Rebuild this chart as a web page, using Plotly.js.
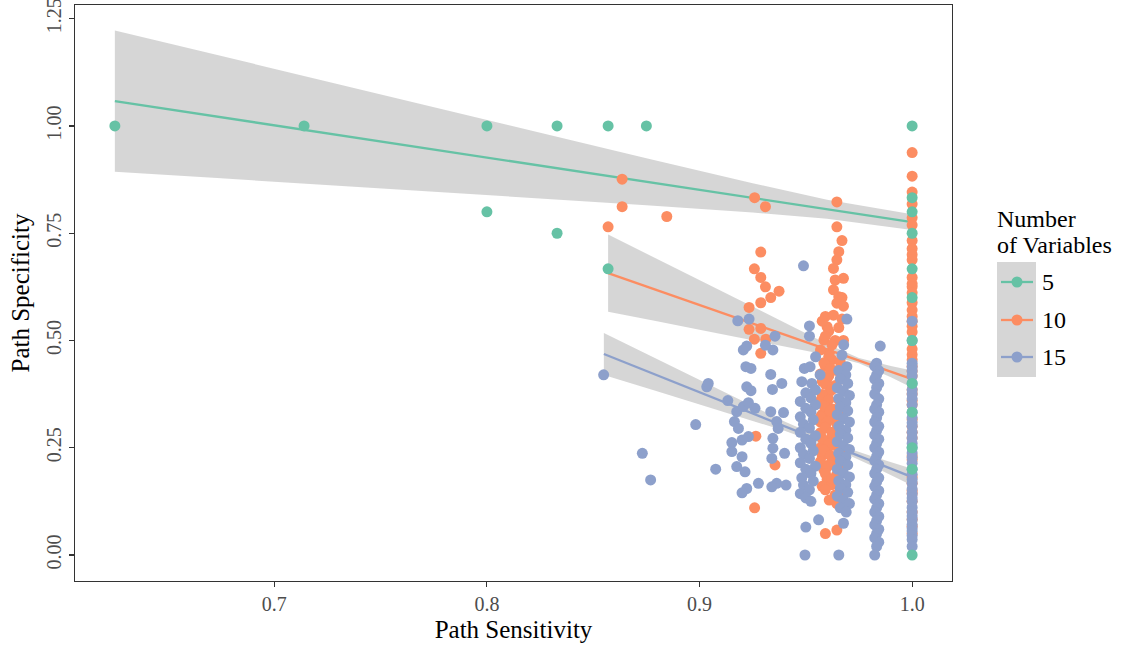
<!DOCTYPE html>
<html>
<head>
<meta charset="utf-8">
<script src="https://cdn.plot.ly/plotly-3.0.1.min.js"></script>
<style>
  html, body { margin: 0; padding: 0; background: #ffffff; }
  #chart { width: 1122px; height: 649px; }
</style>
</head>
<body>
<div id="chart"></div>
<script>
// ---------- point data: path sensitivity (x) vs path specificity (y) ----------
// 5 variables
const v5X = [0.625, 0.714, 0.8, 0.8, 0.833, 0.833, 0.857, 0.857, 0.875,
  1, 1, 1, 1, 1, 1, 1, 1, 1, 1, 1, 1];
const v5Y = [1, 1, 1, 0.8, 1, 0.75, 1, 0.667, 1,
  1, 0.833, 0.8, 0.75, 0.667, 0.6, 0.5, 0.4, 0.333, 0.25, 0.2, 0];

// 10 variables: scattered points
const v10ScatterX = [0.857, 0.8636, 0.8636, 0.8846, 0.9259, 0.931, 0.9288, 0.9258, 0.9288, 0.931, 0.9374,
  0.9335, 0.9288, 0.9233, 0.9233, 0.9288, 0.9258, 0.9312, 0.9288, 0.9265, 0.9355, 0.9259];
const v10ScatterY = [0.765, 0.876, 0.812, 0.789, 0.833, 0.812, 0.706, 0.667, 0.647, 0.625, 0.615,
  0.6, 0.588, 0.577, 0.526, 0.528, 0.503, 0.503, 0.47, 0.277, 0.21, 0.11];
// 10 variables: column near 0.965
const v10ColX = [0.9646, 0.9646, 0.967, 0.9655, 0.9646, 0.963, 0.9677, 0.9638, 0.963, 0.9655, 0.967,
  0.9646, 0.9677, 0.9592, 0.963, 0.967, 0.96, 0.9655, 0.9585, 0.9638, 0.9677, 0.961,
  0.9623, 0.9662, 0.9592, 0.9646, 0.9608, 0.9662, 0.9577, 0.9638, 0.9615, 0.9585, 0.9569, 0.9655,
  0.96, 0.963, 0.9669, 0.9577, 0.9569, 0.9615, 0.9646, 0.9592, 0.9662, 0.9569, 0.9623, 0.9585,
  0.9638, 0.96, 0.9569, 0.9669, 0.9577, 0.963, 0.9608, 0.9662, 0.9585, 0.9646, 0.96, 0.9577,
  0.9623, 0.9662, 0.9592, 0.9638, 0.961, 0.9646, 0.9592, 0.9646];
const v10ColY = [0.823, 0.765, 0.733, 0.707, 0.688, 0.668, 0.645, 0.641, 0.618, 0.602, 0.6,
  0.587, 0.58, 0.556, 0.559, 0.55, 0.532, 0.53, 0.501, 0.5, 0.5, 0.47,
  0.455, 0.45, 0.44, 0.43, 0.418, 0.41, 0.405, 0.395, 0.382, 0.37, 0.36, 0.362,
  0.35, 0.34, 0.33, 0.328, 0.31, 0.318, 0.305, 0.296, 0.29, 0.285, 0.276, 0.265,
  0.255, 0.244, 0.25, 0.235, 0.232, 0.222, 0.21, 0.2, 0.198, 0.188, 0.176, 0.16,
  0.164, 0.15, 0.152, 0.14, 0.128, 0.12, 0.05, 0.058];
const v10ColFillX = [0.9577, 0.9608, 0.9592, 0.9623, 0.9569, 0.9608, 0.9585, 0.9615, 0.9569, 0.96,
  0.9592, 0.9623, 0.9577, 0.9608, 0.9585, 0.9615, 0.9569, 0.96, 0.9592, 0.9623, 0.9577, 0.9608,
  0.9585, 0.9615, 0.9569, 0.96, 0.9592, 0.9623];
const v10ColFillY = [0.545, 0.522, 0.51, 0.49, 0.478, 0.463, 0.448, 0.435, 0.422, 0.41,
  0.398, 0.386, 0.374, 0.362, 0.348, 0.336, 0.322, 0.31, 0.298, 0.286, 0.272, 0.258,
  0.245, 0.232, 0.218, 0.205, 0.19, 0.178];
// 10 variables: sensitivity 1.0
const v10FullY = [0.938, 0.883, 0.846, 0.818, 0.786, 0.769, 0.733, 0.714, 0.7, 0.688, 0.647,
  0.632, 0.625, 0.611, 0.588, 0.571, 0.556, 0.545, 0.533, 0.52, 0.48, 0.467, 0.455, 0.44,
  0.429, 0.417, 0.385, 0.375, 0.36, 0.35, 0.316, 0.3, 0.286, 0.273, 0.231, 0.222, 0.182,
  0.167, 0.15, 0.143, 0.125, 0.1, 0.083, 0.067, 0.05];

// 15 variables: scattered points
const v15ScatterX = [0.8549, 0.8731, 0.877, 0.8982, 0.9034, 0.9041, 0.9076, 0.9133, 0.918, 0.9233,
  0.9355, 0.9206, 0.9222, 0.9345, 0.931, 0.9218, 0.9242, 0.9335, 0.9387, 0.9343, 0.9222, 0.9242,
  0.9175, 0.9206, 0.923, 0.9261, 0.9335, 0.9395, 0.9164, 0.9183, 0.9363, 0.937, 0.923, 0.92,
  0.9152, 0.9345, 0.9345, 0.9152, 0.92, 0.94, 0.934, 0.9175, 0.9214, 0.9277, 0.9363, 0.934,
  0.9222, 0.92, 0.9407];
const v15ScatterY = [0.42, 0.237, 0.175, 0.304, 0.392, 0.4, 0.2, 0.36, 0.546, 0.55,
  0.51, 0.478, 0.487, 0.478, 0.489, 0.439, 0.435, 0.421, 0.4, 0.386, 0.392, 0.383,
  0.334, 0.346, 0.355, 0.342, 0.334, 0.332, 0.311, 0.295, 0.311, 0.295, 0.276, 0.268,
  0.262, 0.272, 0.249, 0.241, 0.229, 0.237, 0.225, 0.206, 0.194, 0.167, 0.167, 0.159,
  0.155, 0.145, 0.163];
// 15 variables: column near 0.95
const v15Col950X = [0.9489, 0.9517, 0.9517, 0.9546, 0.9493, 0.952, 0.9567, 0.9481, 0.9528,
  0.9545, 0.95, 0.9524, 0.9474, 0.9545, 0.95, 0.9524, 0.9474, 0.9535, 0.9489, 0.9517, 0.9474,
  0.9545, 0.95, 0.9524, 0.9474, 0.9535, 0.9489, 0.9517, 0.9474, 0.9545, 0.95, 0.9524, 0.9481,
  0.9535, 0.9489, 0.9517, 0.9474, 0.95, 0.9524, 0.95, 0.956, 0.9496];
const v15Col950Y = [0.674, 0.534, 0.51, 0.462, 0.435, 0.439, 0.42, 0.404, 0.4,
  0.385, 0.378, 0.366, 0.358, 0.35, 0.342, 0.333, 0.322, 0.315, 0.305, 0.296, 0.286,
  0.278, 0.27, 0.26, 0.25, 0.243, 0.235, 0.225, 0.215, 0.207, 0.2, 0.19, 0.18,
  0.172, 0.163, 0.152, 0.143, 0.133, 0.125, 0.065, 0.082, 0];
// 15 variables: column near 0.967
const v15Col967X = [0.9693, 0.9678, 0.967, 0.9693,
  0.9655, 0.9688, 0.9662, 0.9697, 0.9648, 0.9677, 0.9705, 0.9655, 0.9688, 0.9662, 0.9697,
  0.9648, 0.9677, 0.9705, 0.9655, 0.9688, 0.9662, 0.9697, 0.9648, 0.9677, 0.9705, 0.9655,
  0.9688, 0.9662, 0.9697, 0.9648, 0.9677, 0.9705, 0.9655, 0.9688, 0.9662, 0.9697, 0.9648,
  0.9677, 0.9705, 0.9662, 0.969, 0.9677, 0.9655];
const v15Col967Y = [0.55, 0.49, 0.466, 0.439,
  0.43, 0.42, 0.41, 0.4, 0.39, 0.382, 0.372, 0.365, 0.355, 0.345, 0.336,
  0.327, 0.318, 0.31, 0.3, 0.291, 0.282, 0.273, 0.264, 0.255, 0.246, 0.237,
  0.228, 0.219, 0.21, 0.2, 0.191, 0.182, 0.173, 0.164, 0.155, 0.146, 0.137,
  0.128, 0.12, 0.11, 0.1, 0.074, 0];
// 15 variables: column near 0.983
const v15Col983X = [0.985, 0.9833, 0.9824, 0.9843, 0.9833, 0.9824, 0.9843, 0.9833, 0.9824,
  0.9843, 0.9833, 0.9824, 0.9843, 0.9833, 0.9824, 0.9843, 0.9833, 0.9824, 0.9843, 0.9833,
  0.9824, 0.9843, 0.9833, 0.9824, 0.9843, 0.9833, 0.9824, 0.9843, 0.9833, 0.9824, 0.9843,
  0.9833, 0.9824, 0.9843, 0.9833, 0.9824, 0.9843, 0.9833, 0.9824, 0.9843, 0.9833, 0.9824,
  0.9843, 0.9833, 0.9824];
const v15Col983Y = [0.487, 0.447, 0.44, 0.43, 0.42, 0.41, 0.4, 0.39, 0.375,
  0.364, 0.35, 0.34, 0.333, 0.32, 0.31, 0.3, 0.29, 0.28, 0.27, 0.26,
  0.25, 0.24, 0.23, 0.22, 0.21, 0.2, 0.19, 0.18, 0.17, 0.16, 0.15,
  0.14, 0.13, 0.12, 0.11, 0.1, 0.09, 0.08, 0.07, 0.06, 0.05, 0.04,
  0.03, 0.02, 0];
// 15 variables: sensitivity 1.0
const v15FullY = [0.545, 0.5, 0.447, 0.438, 0.429, 0.417, 0.4, 0.385, 0.375, 0.364, 0.35,
  0.333, 0.32, 0.308, 0.3, 0.286, 0.273, 0.26, 0.25, 0.238, 0.227, 0.214, 0.2, 0.188,
  0.176, 0.167, 0.154, 0.143, 0.133, 0.125, 0.111, 0.1, 0.091, 0.083, 0.071, 0.063,
  0.056, 0.045, 0.036, 0.02];

// ---------- linear fits with 95% confidence bands ----------
const fit5X = [0.625, 0.675, 0.725, 0.775, 0.825, 0.875, 0.925, 0.96, 1.0];
const fit5Y = [1.058, 1.0204, 0.9828, 0.9452, 0.9076, 0.87, 0.8324, 0.8061, 0.776];
const fit5Hi = [1.2228, 1.1629, 1.1031, 1.0433, 0.9838, 0.9246, 0.8665, 0.8283, 0.7942];
const fit5Lo = [0.8932, 0.8779, 0.8625, 0.8471, 0.8314, 0.8154, 0.7983, 0.7839, 0.7578];

const fit10X = [0.857, 0.88, 0.9, 0.92, 0.94, 0.96, 0.975, 0.99, 1.0];
const fit10Y = [0.657, 0.6173, 0.5827, 0.5482, 0.5137, 0.4791, 0.4532, 0.4273, 0.41];
const fit10Hi = [0.747, 0.6899, 0.6401, 0.5905, 0.541, 0.4921, 0.4594, 0.4403, 0.43];
const fit10Lo = [0.567, 0.5447, 0.5253, 0.5059, 0.4864, 0.4661, 0.447, 0.4143, 0.39];

const fit15X = [0.855, 0.88, 0.9, 0.92, 0.94, 0.965, 0.98, 1.0];
const fit15Y = [0.4685, 0.419, 0.3794, 0.3399, 0.3003, 0.2508, 0.2211, 0.1815];
const fit15Hi = [0.5175, 0.4565, 0.4078, 0.3593, 0.3112, 0.2569, 0.232, 0.2009];
const fit15Lo = [0.4195, 0.3815, 0.351, 0.3205, 0.2894, 0.2447, 0.2102, 0.1621];

// ---------- axis ticks and legend labels ----------
const xTicks = [0.7, 0.8, 0.9, 1.0];
const xTickText = ['0.7', '0.8', '0.9', '1.0'];
const yTicks = [0, 0.25, 0.5, 0.75, 1.0, 1.25];
const yTickText = ['0.00', '0.25', '0.50', '0.75', '1.00', '1.25'];
const groupNames = ['5', '10', '15'];

// ---------- styling ----------
const COLORS = ['#66C2A5', '#FC8D62', '#8DA0CB'];
const BAND = 'rgba(153,153,153,0.4)';
const SERIF = '"Liberation Serif", "Times New Roman", serif';
const MARKER = 11;

const W = 1122, H = 649;
const M = { l: 75, r: 170, t: 5, b: 68 };
const plotW = W - M.l - M.r, plotH = H - M.t - M.b;
const px = v => (v - M.l) / plotW;          // page x pixel -> paper
const py = v => (H - M.b - v) / plotH;      // page y pixel -> paper

const fill = (n) => new Array(n).fill(1);

function bandTrace(xs, hi, lo) {
  return {
    x: xs.concat(xs.slice().reverse()),
    y: hi.concat(lo.slice().reverse()),
    type: 'scatter', mode: 'lines', fill: 'toself',
    fillcolor: BAND, line: { width: 0, color: 'rgba(0,0,0,0)' },
    hoverinfo: 'skip', showlegend: false
  };
}
function lineTrace(xs, ys, color) {
  return { x: xs, y: ys, type: 'scatter', mode: 'lines',
    line: { color: color, width: 2.3 }, hoverinfo: 'skip', showlegend: false };
}
function pointTrace(xs, ys, color, name) {
  return { x: xs, y: ys, type: 'scatter', mode: 'markers', name: name,
    marker: { color: color, size: MARKER, line: { width: 0 } }, showlegend: false };
}

const v10X = v10ScatterX.concat(v10ColX, v10ColFillX, fill(v10FullY.length));
const v10Y = v10ScatterY.concat(v10ColY, v10ColFillY, v10FullY);
const v15X = v15ScatterX.concat(v15Col950X, v15Col967X, v15Col983X, fill(v15FullY.length));
const v15Y = v15ScatterY.concat(v15Col950Y, v15Col967Y, v15Col983Y, v15FullY);

const traces = [
  bandTrace(fit5X, fit5Hi, fit5Lo),
  bandTrace(fit10X, fit10Hi, fit10Lo),
  bandTrace(fit15X, fit15Hi, fit15Lo),
  lineTrace(fit5X, fit5Y, COLORS[0]),
  lineTrace(fit10X, fit10Y, COLORS[1]),
  lineTrace(fit15X, fit15Y, COLORS[2]),
  pointTrace(v10X, v10Y, COLORS[1], groupNames[1]),
  pointTrace(v15X, v15Y, COLORS[2], groupNames[2]),
  pointTrace(v5X, v5Y, COLORS[0], groupNames[0])
];

// ---------- legend: "Number of Variables" ----------
const shapes = [];
const annotations = [];
const keyRows = [282, 320, 357];
const LEGEND_FONT = { family: SERIF, size: 24, color: '#000000' };
shapes.push({ type: 'rect', xref: 'paper', yref: 'paper',
  x0: px(997), x1: px(1036), y0: py(377), y1: py(262),
  fillcolor: BAND, line: { width: 0 }, layer: 'above' });
groupNames.forEach((g, i) => {
  const yy = py(keyRows[i]);
  shapes.push({ type: 'line', xref: 'paper', yref: 'paper',
    x0: px(1001), x1: px(1033), y0: yy, y1: yy,
    line: { color: COLORS[i], width: 2.3 }, layer: 'above' });
  shapes.push({ type: 'circle', xref: 'paper', yref: 'paper',
    xsizemode: 'pixel', ysizemode: 'pixel', xanchor: px(1017), yanchor: yy,
    x0: -MARKER / 2, x1: MARKER / 2, y0: -MARKER / 2, y1: MARKER / 2,
    fillcolor: COLORS[i], line: { width: 0 }, layer: 'above' });
  annotations.push({ xref: 'paper', yref: 'paper', x: px(1040), y: yy,
    xanchor: 'left', yanchor: 'middle', showarrow: false, text: g, font: LEGEND_FONT });
});
annotations.push({ xref: 'paper', yref: 'paper', x: px(995), y: py(219),
  xanchor: 'left', yanchor: 'middle', showarrow: false, text: 'Number', font: LEGEND_FONT });
annotations.push({ xref: 'paper', yref: 'paper', x: px(995), y: py(245),
  xanchor: 'left', yanchor: 'middle', showarrow: false, text: 'of Variables', font: LEGEND_FONT });

const axisCommon = {
  showgrid: false, zeroline: false, showline: true, mirror: true,
  linecolor: '#333333', linewidth: 1.1,
  ticks: 'outside', ticklen: 5, tickwidth: 1.1, tickcolor: '#333333',
  ticklabeloverflow: 'allow',
  tickfont: { family: SERIF, size: 20, color: '#4D4D4D' }
};

const layout = {
  width: W, height: H,
  margin: M,
  paper_bgcolor: '#ffffff', plot_bgcolor: '#ffffff',
  showlegend: false,
  xaxis: Object.assign({}, axisCommon, {
    range: [0.60625, 1.01875],
    tickmode: 'array', tickvals: xTicks, ticktext: xTickText,
    title: { text: 'Path Sensitivity', standoff: 6,
      font: { family: SERIF, size: 25, color: '#000000' } }
  }),
  yaxis: Object.assign({}, axisCommon, {
    range: [-0.0606, 1.282],
    tickmode: 'array', tickvals: yTicks, ticktext: yTickText, tickangle: -90,
    title: { text: 'Path Specificity', standoff: 6,
      font: { family: SERIF, size: 25, color: '#000000' } }
  }),
  shapes: shapes,
  annotations: annotations
};

Plotly.newPlot('chart', traces, layout, { displayModeBar: false, staticPlot: true });
</script>
</body>
</html>
